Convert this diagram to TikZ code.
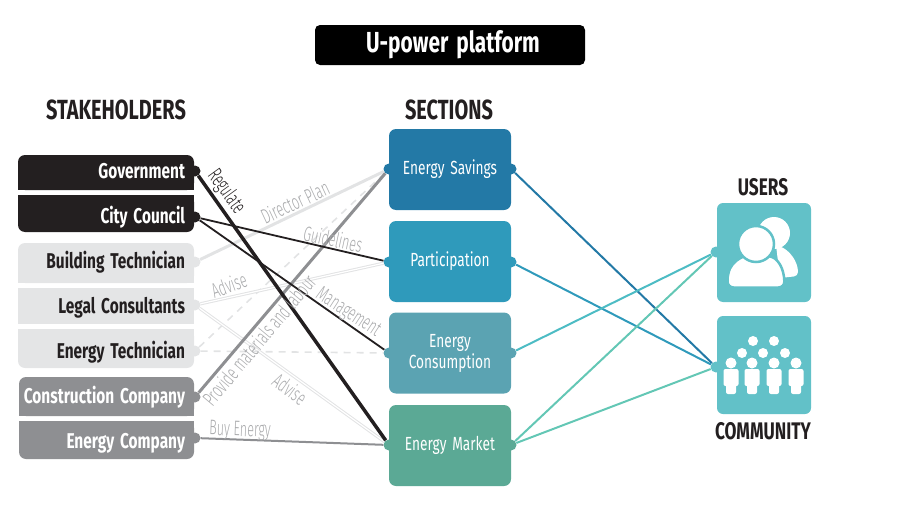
\documentclass[tikz,border=0pt]{standalone}
\usepackage{fontspec}
\setmainfont[FakeStretch=0.72,WordSpace=1.6]{Fira Sans}
\newfontfamily\lightfont[FakeStretch=0.6]{Fira Sans Light}
\definecolor{inkblack}{HTML}{231F20}
\definecolor{lightbox}{HTML}{E4E5E6}
\definecolor{midbox}{HTML}{8E8F92}
\definecolor{savecol}{HTML}{2379A6}
\definecolor{partcol}{HTML}{2F9ABB}
\definecolor{conscol}{HTML}{5BA3B2}
\definecolor{markcol}{HTML}{5BA995}
\definecolor{usercol}{HTML}{62C1C8}
\definecolor{linkgreen}{HTML}{63C7B5}
\definecolor{linkteal}{HTML}{4DBCC4}
\definecolor{labelgrey}{HTML}{A9AAAC}
\definecolor{lineLight}{HTML}{E2E3E4}
\tikzset{x=1pt,y=-1pt,
  stake/.style={text width=166pt,inner xsep=5pt,inner ysep=0pt,align=flush right,text height=15pt,text depth=5pt,font=\fontsize{21.4}{21.4}\selectfont\bfseries},
  section/.style={rounded corners=7pt,minimum width=122pt,minimum height=81pt,align=center,text=white,inner sep=0pt,font=\fontsize{19}{21}\selectfont},
  head/.style={font=\fontsize{27.7}{27.7}\selectfont\bfseries,text=inkblack,inner sep=0pt},
  subhead/.style={font=\fontsize{24}{24}\selectfont\bfseries,text=inkblack,inner sep=0pt},
  dot/.style={circle,minimum size=11pt,inner sep=0pt},
  tag/.style={text=labelgrey,inner sep=0pt,font=\lightfont\fontsize{21}{21}\selectfont},
  person/.style={fill=white,rounded corners=2pt}
}
% box with round corners on top only / at the bottom only
\newcommand{\topbox}[4]{\fill[#4,rounded corners=7pt] (#1,#2) rectangle (194,#3);
  \fill[#4] (#1,#2+10) rectangle (194,#3);}
\newcommand{\botbox}[4]{\fill[#4,rounded corners=7pt] (#1,#2) rectangle (194,#3);
  \fill[#4] (#1,#2) rectangle (194,#3-10);}
\begin{document}
\begin{tikzpicture}
\useasboundingbox (0,0) rectangle (900,506);
\node[fill=black,rounded corners=5pt,minimum width=270pt,minimum height=40pt,text=white,inner sep=0pt,text height=21pt,text depth=7pt,font=\fontsize{29}{29}\selectfont\bfseries] (title) at (450,45) {\hspace*{6pt}U-power platform};
\node[head] (stakehead) at (116,110) {STAKEHOLDERS};
\node[head] (sectionhead) at (449,110) {SECTIONS};
\node[subhead] (usershead) at (763,187) {USERS};
\node[subhead] (communityhead) at (763,431) {COMMUNITY};
% stakeholders
\topbox{18}{155}{190}{inkblack}
\botbox{18}{195}{232}{inkblack}
\topbox{18}{243}{283}{lightbox}
\fill[lightbox] (18,288) rectangle (194,324);
\botbox{18}{329}{368}{lightbox}
\topbox{19}{377}{416}{midbox}
\botbox{19}{421}{459}{midbox}
\node[stake,text=white] (gov) at (102,173) {Government};
\node[stake,text=white] (city) at (102,218) {City Council};
\node[stake,text=inkblack] (build) at (102,263) {Building Technician};
\node[stake,text=inkblack] (legal) at (102,308) {Legal Consultants};
\node[stake,text=inkblack] (tech) at (102,353) {Energy Technician};
\node[stake,text=white] (constr) at (102,398) {Construction Company};
\node[stake,text=white] (company) at (102,443) {Energy Company};
\node[dot,fill=inkblack] (govdot) at (195,171) {};
\node[dot,fill=inkblack] (citydot) at (195,217) {};
\node[dot,fill=lightbox] (builddot) at (195,262) {};
\node[dot,fill=lightbox] (legaldot) at (195,305) {};
\node[dot,fill=lightbox] (techdot) at (195,351) {};
\node[dot,fill=midbox] (constrdot) at (195,397) {};
\node[dot,fill=midbox] (companydot) at (195,438) {};
% sections
\node[section,fill=savecol] (savings) at (450,169.5) {Energy Savings};
\node[section,fill=partcol] (part) at (450,261.5) {Participation};
\node[section,fill=conscol] (cons) at (450,353) {Energy\\Consumption};
\node[section,fill=markcol] (market) at (450,445.5) {Energy Market};
\foreach \n/\c/\y in {savings/savecol/169,part/partcol/262,cons/conscol/353,market/markcol/445}{
  \node[dot,fill=\c] (\n-in) at (389,\y) {};
  \node[dot,fill=\c] (\n-out) at (511,\y) {};
}
% users
\node[rounded corners=6pt,fill=usercol,minimum width=94pt,minimum height=99pt] (users) at (764,252.5) {};
\node[rounded corners=6pt,fill=usercol,minimum width=94pt,minimum height=98pt] (community) at (764,365) {};
\node[dot,fill=usercol] (usersdot) at (716,252) {};
\node[dot,fill=usercol] (communitydot) at (716,367) {};
% light connectors
\draw[lineLight,line width=3pt] (builddot) -- (savings-in);
\draw[lineLight,line width=1.6pt,dash pattern=on 7pt off 6pt] (techdot) -- (savings-in);
\draw[lineLight,line width=1.6pt,dash pattern=on 7pt off 6pt] (techdot) -- (cons-in);
\draw[lineLight,line width=1pt,double=white,double distance=1.2pt] (legaldot) -- (part-in);
\draw[lineLight,line width=1pt,double=white,double distance=1.2pt] (legaldot) -- (market-in);
% dark connectors
\draw[midbox,line width=3pt] (constrdot) -- (savings-in);
\draw[midbox,line width=2pt] (companydot) -- (market-in);
\draw[inkblack,line width=1.8pt] (citydot) -- (part-in);
\draw[inkblack,line width=1.8pt] (citydot) -- (cons-in);
\draw[inkblack,line width=3.5pt] (govdot) -- (market-in);
% right side
\draw[savecol,line width=2pt] (savings-out) -- (communitydot);
\draw[partcol,line width=2pt] (part-out) -- (communitydot);
\draw[linkteal,line width=2pt] (cons-out) -- (usersdot);
\draw[linkgreen,line width=2pt] (market-out) -- (usersdot);
\draw[linkgreen,line width=2pt] (market-out) -- (communitydot);
% labels
\node[tag,text=inkblack,rotate=-54] (regulate) at (226,192) {Regulate};
\node[tag,rotate=25] (director) at (295,202) {Director Plan};
\node[tag,rotate=-12] (guide) at (333,239) {Guidelines};
\node[tag,rotate=20] (advisea) at (229,285) {Advise};
\node[tag,rotate=-33] (manage) at (348,313) {Management};
\node[tag,rotate=-36] (adviseb) at (290,389) {Advise};
\node[tag,rotate=50] (provide) at (259,340) {Provide materials and labour};
\node[tag,rotate=-2] (buy) at (240,431) {Buy Energy};
% user icon
\fill[white] (774,233) circle (16pt);
\fill[white,rounded corners=4pt] (776,245) .. controls (790,250) and (798,262) .. (798,276) -- (780,278) -- cycle;
\fill[white,draw=usercol,line width=2.5pt,rounded corners=6pt] (727.5,287.5) -- (727.5,274) .. controls (733,262) and (740,258) .. (748,255) -- (768,255) .. controls (778,260) and (784,268) .. (784.5,287.5) -- cycle;
\fill[white,draw=usercol,line width=2.5pt] (756,244) circle (18pt);
% community icon
\foreach \x/\y in {753/341,774/341,742/353,763/353,785/353}{
  \fill[white] (\x,\y) circle (5pt);
}
\foreach \x in {731,752,774,796}{
  \fill[white] (\x,363) circle (5.5pt);
  \fill[person] (\x-7.5,386) -- (\x-7.5,369) -- (\x+7.5,369) -- (\x+7.5,386) -- cycle;
  \fill[person] (\x-5,380) -- (\x+5,380) -- (\x+5,394) -- (\x-5,394) -- cycle;
}
\end{tikzpicture}
\end{document}
